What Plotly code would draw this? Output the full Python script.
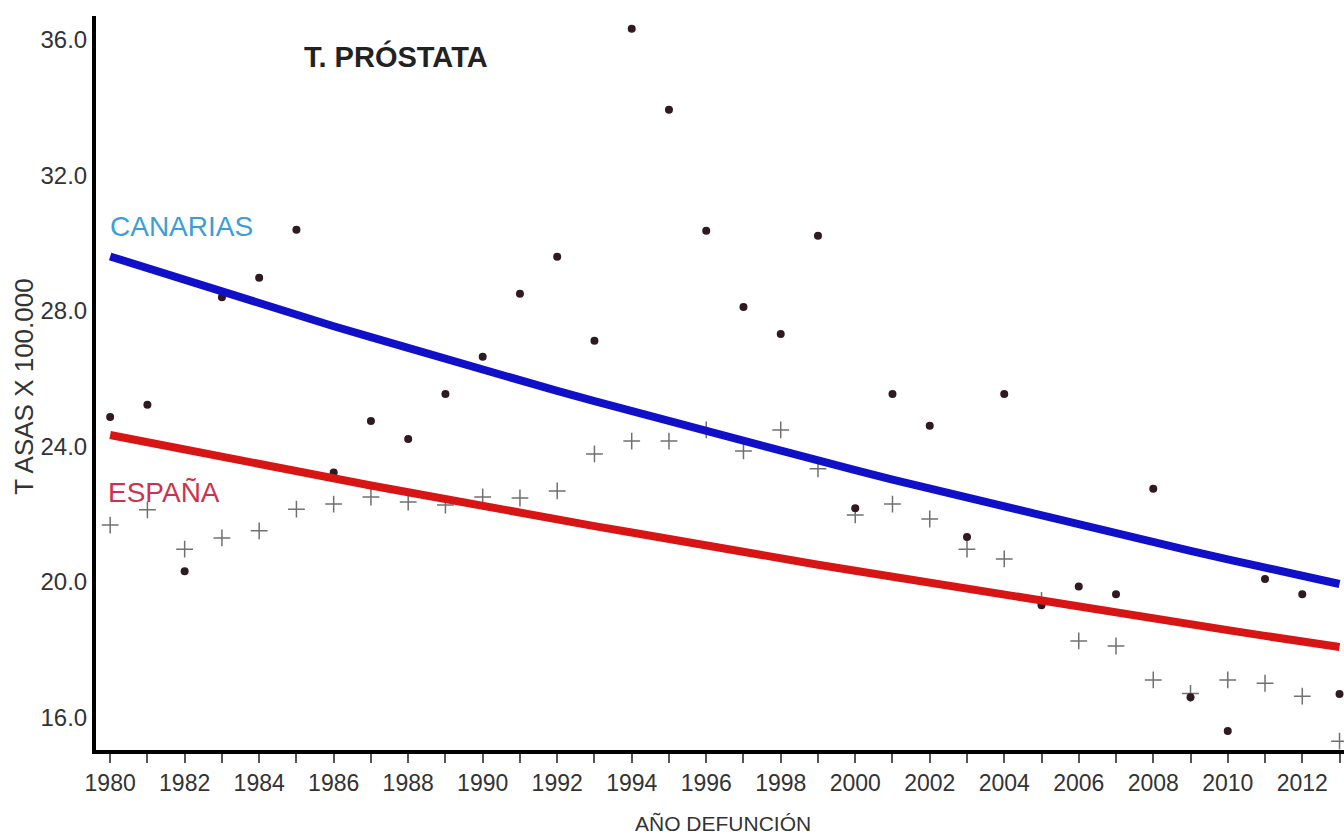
import plotly.graph_objects as go

years = list(range(1980, 2014))

canarias = [24.86, 25.22, 20.31, 28.40, 28.97, 30.39, 23.22, 24.74, 24.21, 25.54,
            26.64, 28.50, 29.59, 27.11, 36.32, 33.93, 30.36, 28.11, 27.31, 30.21,
            22.17, 25.54, 24.60, 21.32, 25.54, 19.30, 19.86, 19.63, 22.74, 16.59,
            15.59, 20.08, 19.63, 16.68]

espana = [21.67, 22.12, 20.96, 21.29, 21.50, 22.14, 22.29, 22.50, 22.35, 22.26,
          22.50, 22.47, 22.68, 23.77, 24.15, 24.15, 24.48, 23.86, 24.48, 23.33,
          21.97, 22.29, 21.85, 20.96, 20.67, 19.45, 18.25, 18.10, 17.10, 16.70,
          17.10, 17.00, 16.62, 15.29]

trend_canarias = [29.60, 29.25, 28.90, 28.55, 28.21, 27.88, 27.54, 27.22, 26.89, 26.57,
                  26.26, 25.94, 25.63, 25.33, 25.03, 24.73, 24.44, 24.14, 23.86, 23.57,
                  23.29, 23.01, 22.74, 22.47, 22.20, 21.94, 21.67, 21.42, 21.16, 20.91,
                  20.66, 20.41, 20.17, 19.93]

trend_espana = [24.33, 24.11, 23.89, 23.68, 23.47, 23.26, 23.05, 22.84, 22.64, 22.43,
                22.23, 22.03, 21.84, 21.64, 21.45, 21.25, 21.06, 20.87, 20.69, 20.50,
                20.32, 20.14, 19.96, 19.78, 19.60, 19.42, 19.25, 19.08, 18.90, 18.73,
                18.57, 18.40, 18.24, 18.07]

y_ticks = [16.0, 20.0, 24.0, 28.0, 32.0, 36.0]
x_tick_text = [str(y) if y % 2 == 0 else "" for y in years]

FONT = "Liberation Sans, Arial, sans-serif"

fig = go.Figure()

fig.add_trace(go.Scatter(
    x=years, y=espana, mode="markers",
    marker=dict(symbol="cross-thin-open", size=12, color="#707070",
                line=dict(color="#707070", width=1.5)),
    showlegend=False))
fig.add_trace(go.Scatter(
    x=years, y=canarias, mode="markers",
    marker=dict(symbol="circle", size=8, color="#2e1a20"),
    showlegend=False))
fig.add_trace(go.Scatter(
    x=years, y=trend_canarias, mode="lines",
    line=dict(color="#1010c8", width=8), showlegend=False))
fig.add_trace(go.Scatter(
    x=years, y=trend_espana, mode="lines",
    line=dict(color="#d81515", width=8), showlegend=False))

fig.add_annotation(x=1985.15, y=35.5, xref="x", yref="y", text="<b>T. PRÓSTATA</b>",
                   showarrow=False, xanchor="left", yanchor="middle",
                   font=dict(family=FONT, size=29, color="#222222"))
fig.add_annotation(x=1979.95, y=30.5, xref="x", yref="y", text="CANARIAS",
                   showarrow=False, xanchor="left", yanchor="middle",
                   font=dict(family=FONT, size=28, color="#3a9fd6"))
fig.add_annotation(x=1979.9, y=22.62, xref="x", yref="y", text="ESPAÑA",
                   showarrow=False, xanchor="left", yanchor="middle",
                   font=dict(family=FONT, size=28, color="#d03050"))

fig.add_annotation(x=-0.0577, y=0.495, xref="paper", yref="paper", text="T ASAS X 100.000",
                   showarrow=False, textangle=-90, xanchor="center", yanchor="middle",
                   font=dict(family=FONT, size=26, color="#333333"))
fig.add_annotation(x=0.5024, y=-0.0995, xref="paper", yref="paper", text="AÑO DEFUNCIÓN",
                   showarrow=False, xanchor="center", yanchor="middle",
                   font=dict(family=FONT, size=21, color="#333333"))

fig.update_xaxes(range=[1979.62, 2013.12], tickvals=years, ticktext=x_tick_text,
                 ticks="outside", ticklen=9, tickwidth=1.5, tickcolor="#555555",
                 showline=True, linecolor="black", linewidth=4,
                 showgrid=False, zeroline=False,
                 tickfont=dict(family=FONT, size=23, color="#333333"))
fig.update_yaxes(range=[15.03, 36.7], tickvals=y_ticks, tickformat=".1f",
                 ticks="", showline=True, linecolor="black", linewidth=4,
                 showgrid=False, zeroline=False,
                 tickfont=dict(family=FONT, size=24, color="#333333"))

fig.update_layout(width=1344, height=835, plot_bgcolor="white", paper_bgcolor="white",
                  margin=dict(l=96, r=0, t=16, b=85), showlegend=False)

fig.write_html("out.html",
               config={"displayModeBar": False},
               post_script="document.body.style.margin='0px';"
                           "document.body.style.overflow='hidden';")
